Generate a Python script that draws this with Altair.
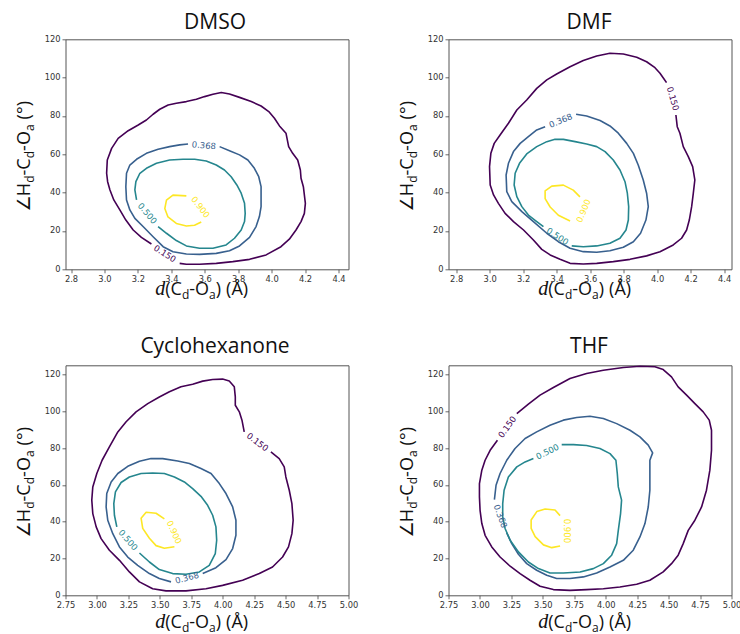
import altair as alt
import pandas as pd

# Contour levels drawn in every panel and their viridis colours
LEVEL_NAMES = ["0.150", "0.368", "0.500", "0.900"]
LEVEL_COLORS = ["#440154", "#38608e", "#25868e", "#fde725"]

# ---------------- DMSO ----------------
dmso_150_d = [3.450, 3.490, 3.569, 3.669, 3.768, 3.868, 3.967, 4.056, 4.106, 4.146, 4.176, 4.196, 4.202,
              4.190, 4.176, 4.172, 4.156, 4.126, 4.102, 4.086, 4.047, 4.017, 3.983, 3.937, 3.878, 3.808,
              3.748, 3.699, 3.649, 3.599, 3.550, 3.490, 3.430, 3.381, 3.331, 3.291, 3.251, 3.202, 3.142,
              3.082, 3.043, 3.017, 3.013, 3.019, 3.033, 3.056, 3.092, 3.128, 3.172, 3.221, 3.281]
dmso_150_a = [3.1, 2.6, 2.6, 3.1, 4.0, 5.2, 7.5, 11.8, 15.7, 20.5, 24.9, 29.2, 34.4, 43.1, 47.5, 51.8,
              57.0, 60.5, 64.0, 71.0, 74.8, 78.8, 82.3, 85.2, 87.5, 89.7, 91.5, 92.2, 91.3, 90.1, 88.7,
              87.5, 86.6, 85.7, 83.5, 80.9, 77.9, 75.3, 72.3, 68.3, 63.1, 57.0, 50.1, 45.7, 41.4, 36.2,
              31.0, 25.7, 20.5, 16.7, 13.2]
dmso_368_d = [3.689, 3.748, 3.808, 3.858, 3.897, 3.923, 3.937, 3.937, 3.927, 3.907, 3.868, 3.808, 3.748,
              3.669, 3.569, 3.490, 3.410, 3.351, 3.291, 3.231, 3.182, 3.152, 3.132, 3.128, 3.132, 3.152,
              3.192, 3.251, 3.321, 3.390, 3.450, 3.500]
dmso_368_a = [64.0, 61.9, 59.7, 57.0, 52.7, 48.3, 43.1, 32.7, 27.5, 22.3, 16.7, 12.2, 9.7, 8.3, 7.8, 8.0,
              9.2, 11.8, 17.0, 22.3, 26.6, 31.0, 36.2, 43.1, 50.1, 54.4, 57.4, 60.5, 62.6, 64.0, 64.9, 65.4]
dmso_500_d = [3.321, 3.371, 3.430, 3.490, 3.569, 3.649, 3.728, 3.778, 3.818, 3.838, 3.842, 3.838, 3.818,
              3.792, 3.758, 3.718, 3.669, 3.609, 3.540, 3.470, 3.390, 3.311, 3.251, 3.212, 3.188, 3.182,
              3.192]
dmso_500_a = [22.3, 18.8, 15.0, 12.2, 11.0, 11.0, 12.7, 16.2, 20.5, 24.9, 29.2, 34.4, 39.7, 44.0, 48.3,
              51.8, 54.4, 56.5, 57.4, 57.4, 57.0, 55.3, 52.7, 50.1, 45.7, 41.4, 36.2]
dmso_900_d = [3.490, 3.410, 3.371, 3.361, 3.380, 3.430, 3.490, 3.539, 3.579]
dmso_900_a = [38.3, 38.7, 36.1, 31.7, 27.3, 23.9, 22.6, 23.0, 24.7]
dmso_lab_d = [3.362, 3.595, 3.257, 3.575]
dmso_lab_a = [8.2, 64.7, 29.2, 32.5]
dmso_lab_ang = [33, 5, 50, 52]

# ---------------- DMF ----------------
dmf_150_d = [4.112, 4.120, 4.136, 4.156, 4.186, 4.212, 4.225, 4.216, 4.206, 4.192, 4.176, 4.146, 4.096,
             4.017, 3.937, 3.838, 3.738, 3.639, 3.559, 3.480, 3.420, 3.361, 3.311, 3.261, 3.202, 3.142,
             3.092, 3.052, 3.023, 3.003, 2.999, 3.007, 3.027, 3.062, 3.112, 3.162, 3.221, 3.281, 3.341,
             3.400, 3.480, 3.559, 3.639, 3.718, 3.798, 3.878, 3.937, 3.987, 4.017, 4.041, 4.056]
dmf_150_a = [80.5, 74.4, 71.0, 64.0, 58.8, 53.6, 46.6, 39.7, 32.7, 25.7, 20.5, 16.2, 12.7, 9.2, 7.0, 5.2,
             4.0, 3.1, 2.8, 3.1, 5.2, 7.5, 10.4, 15.3, 20.5, 24.9, 29.2, 34.4, 38.8, 44.0, 53.6, 60.5,
             65.7, 70.1, 76.2, 83.1, 88.3, 94.4, 98.8, 101.9, 105.7, 108.9, 111.3, 112.7, 112.3, 110.6,
             108.3, 105.2, 102.3, 99.3, 97.4]
dmf_368_d = [3.516, 3.579, 3.659, 3.718, 3.768, 3.818, 3.858, 3.887, 3.917, 3.937, 3.947, 3.933, 3.901,
             3.858, 3.798, 3.718, 3.639, 3.559, 3.480, 3.410, 3.341, 3.261, 3.192, 3.132, 3.102, 3.098,
             3.112, 3.142, 3.182, 3.231, 3.281, 3.331]
dmf_368_a = [80.9, 80.0, 77.6, 74.8, 71.0, 65.7, 60.5, 54.4, 46.6, 39.7, 32.7, 25.7, 18.8, 14.4, 11.5, 9.7,
             8.9, 9.2, 11.0, 14.4, 18.8, 24.9, 30.1, 35.3, 40.5, 49.2, 55.3, 61.4, 65.7, 69.2, 72.7, 74.4]
dmf_500_d = [3.490, 3.559, 3.639, 3.718, 3.778, 3.814, 3.828, 3.830, 3.822, 3.808, 3.778, 3.738, 3.689,
             3.639, 3.579, 3.510, 3.440, 3.390, 3.341, 3.281, 3.221, 3.178, 3.152, 3.146, 3.162, 3.192,
             3.231, 3.281, 3.321]
dmf_500_a = [12.2, 11.8, 12.2, 13.6, 16.2, 20.5, 25.7, 32.7, 39.7, 45.7, 51.8, 57.0, 61.4, 64.0, 65.4,
             66.6, 67.8, 67.8, 66.6, 64.0, 60.2, 55.3, 50.1, 44.0, 37.9, 32.7, 28.3, 24.9, 22.3]
dmf_900_d = [3.539, 3.499, 3.440, 3.371, 3.331, 3.331, 3.361, 3.410, 3.480]
dmf_900_a = [37.8, 41.3, 43.9, 43.4, 40.9, 36.9, 32.5, 28.2, 25.2]
dmf_lab_d = [4.095, 3.424, 3.405, 3.560]
dmf_lab_a = [89.0, 77.6, 17.2, 30.5]
dmf_lab_ang = [74, 338, 34, 293]

# ---------------- Cyclohexanone ----------------
cyc_150_d = [4.383, 4.449, 4.489, 4.502, 4.529, 4.550, 4.560, 4.550, 4.523, 4.476, 4.396, 4.291, 4.158,
             3.999, 3.867, 3.708, 3.549, 3.443, 3.338, 3.258, 3.179, 3.099, 3.033, 2.994, 2.967, 2.959,
             2.967, 2.999, 3.041, 3.099, 3.166, 3.232, 3.311, 3.404, 3.496, 3.576, 3.668, 3.761, 3.841,
             3.920, 3.999, 4.052, 4.092, 4.100, 4.100, 4.132, 4.153, 4.171]
cyc_150_a = [77.9, 74.3, 69.8, 64.3, 57.1, 49.8, 40.8, 33.5, 26.3, 20.8, 15.4, 11.8, 8.2, 5.4, 3.6, 2.4,
             2.4, 3.6, 7.3, 12.7, 19.0, 24.5, 30.8, 37.2, 44.4, 51.7, 58.9, 66.2, 73.4, 80.7, 88.8, 94.3,
             99.7, 104.2, 107.8, 110.6, 113.3, 114.7, 116.4, 117.3, 117.5, 116.5, 113.3, 107.8, 103.3,
             99.7, 95.2, 88.8]
cyc_368_d = [3.841, 3.946, 4.026, 4.079, 4.105, 4.105, 4.079, 4.026, 3.973, 3.907, 3.827, 3.735, 3.642,
             3.523, 3.430, 3.338, 3.245, 3.166, 3.113, 3.078, 3.073, 3.086, 3.126, 3.179, 3.245, 3.324,
             3.417, 3.496, 3.589]
cyc_368_a = [11.8, 15.0, 19.4, 25.4, 32.6, 40.8, 48.0, 55.3, 60.7, 66.2, 68.9, 71.6, 73.0, 74.3, 74.3,
             72.9, 70.1, 66.2, 61.6, 55.3, 48.0, 40.8, 33.5, 26.3, 20.8, 16.3, 11.8, 9.1, 7.3]
cyc_500_d = [3.338, 3.417, 3.496, 3.602, 3.708, 3.814, 3.893, 3.941, 3.952, 3.946, 3.920, 3.880, 3.827,
             3.761, 3.695, 3.616, 3.536, 3.443, 3.351, 3.258, 3.192, 3.147, 3.134, 3.139, 3.158]
cyc_500_a = [23.0, 18.1, 14.0, 11.8, 11.4, 12.7, 16.3, 22.7, 29.9, 37.2, 43.5, 48.9, 53.8, 58.0, 61.6,
             64.3, 66.2, 66.5, 66.2, 64.3, 61.3, 56.2, 49.8, 43.5, 37.2]
cyc_900_d = [3.536, 3.470, 3.391, 3.351, 3.364, 3.417, 3.470, 3.536, 3.616]
cyc_900_a = [41.5, 44.6, 45.1, 41.9, 36.4, 31.0, 27.0, 25.6, 26.4]
cyc_lab_d = [4.277, 3.715, 3.248, 3.615]
cyc_lab_a = [83.3, 9.5, 30.1, 34.3]
cyc_lab_ang = [37, 345, 49, 66]

# ---------------- THF ----------------
thf_150_d = [3.293, 3.385, 3.478, 3.584, 3.716, 3.848, 3.981, 4.140, 4.272, 4.391, 4.457, 4.523, 4.576,
             4.643, 4.709, 4.775, 4.823, 4.841, 4.841, 4.828, 4.801, 4.762, 4.709, 4.656, 4.616, 4.576,
             4.523, 4.457, 4.351, 4.246, 4.113, 3.981, 3.848, 3.716, 3.584, 3.478, 3.398, 3.319, 3.240,
             3.160, 3.094, 3.041, 3.015, 3.001, 2.996, 2.996, 3.015, 3.041, 3.081, 3.139]
thf_150_a = [98.8, 103.9, 108.8, 112.9, 117.8, 120.5, 122.3, 123.8, 124.5, 124.2, 122.7, 118.7, 113.3,
             108.8, 104.2, 99.7, 95.2, 89.7, 78.8, 68.0, 57.1, 48.0, 40.8, 35.3, 28.1, 21.8, 17.2, 12.7,
             8.2, 6.0, 4.5, 3.6, 3.1, 2.7, 3.1, 4.9, 8.2, 11.8, 15.8, 20.8, 26.3, 32.6, 39.0, 46.2, 53.5,
             60.7, 68.0, 73.4, 78.8, 84.3]
thf_368_d = [3.115, 3.128, 3.160, 3.213, 3.279, 3.359, 3.451, 3.557, 3.663, 3.769, 3.875, 3.981, 4.087,
             4.193, 4.272, 4.338, 4.373, 4.351, 4.351, 4.351, 4.338, 4.312, 4.272, 4.219, 4.140, 4.034,
             3.928, 3.822, 3.716, 3.610, 3.531, 3.451, 3.372, 3.306, 3.253, 3.213]
thf_368_a = [52.0, 59.8, 66.2, 73.4, 79.8, 85.2, 88.8, 92.4, 95.2, 96.6, 97.3, 96.1, 93.3, 89.7, 86.1,
             81.6, 77.4, 73.4, 66.2, 57.1, 48.0, 39.0, 31.7, 24.5, 19.0, 15.4, 12.1, 10.0, 9.1, 9.1, 10.9,
             13.6, 17.2, 22.3, 28.1, 33.9]
thf_500_d = [3.650, 3.743, 3.848, 3.954, 4.034, 4.081, 4.092, 4.100, 4.126, 4.118, 4.100, 4.087, 4.047,
             3.981, 3.901, 3.796, 3.663, 3.557, 3.465, 3.385, 3.306, 3.240, 3.200, 3.181, 3.181, 3.192,
             3.226, 3.293, 3.359, 3.425]
thf_500_a = [81.9, 81.9, 81.4, 79.8, 77.0, 73.4, 66.2, 58.9, 51.7, 44.4, 35.3, 28.1, 21.8, 17.2, 14.5,
             12.7, 12.1, 12.1, 14.5, 18.1, 23.6, 29.9, 36.3, 42.6, 49.8, 57.1, 64.3, 69.8, 72.5, 74.3]
thf_900_d = [3.637, 3.597, 3.518, 3.452, 3.407, 3.407, 3.439, 3.505, 3.571, 3.637]
thf_900_a = [43.3, 46.4, 46.9, 45.5, 40.9, 36.4, 31.9, 27.4, 25.9, 26.8]
thf_lab_d = [3.216, 3.164, 3.537, 3.690]
thf_lab_a = [91.5, 43.0, 78.1, 35.0]
thf_lab_ang = [306, 70, 334, 90]

# Axis ticks
X_TICKS_NARROW = [2.8, 3.0, 3.2, 3.4, 3.6, 3.8, 4.0, 4.2, 4.4]
X_TICKS_WIDE = [2.75, 3.00, 3.25, 3.50, 3.75, 4.00, 4.25, 4.50, 4.75, 5.00]
Y_TICKS = [0, 20, 40, 60, 80, 100, 120]

W, H = 283, 230
SANS = "Open Sans"
INK = "#111111"

PANELS = [
    dict(title="DMSO", xdom=[2.767, 4.46], ydom=[0, 120], xticks=X_TICKS_NARROW, xfmt=".1f",
         contours=[(dmso_150_d, dmso_150_a), (dmso_368_d, dmso_368_a),
                   (dmso_500_d, dmso_500_a), (dmso_900_d, dmso_900_a)],
         lab=(dmso_lab_d, dmso_lab_a, dmso_lab_ang), row=0, col=0),
    dict(title="DMF", xdom=[2.754, 4.444], ydom=[0, 120], xticks=X_TICKS_NARROW, xfmt=".1f",
         contours=[(dmf_150_d, dmf_150_a), (dmf_368_d, dmf_368_a),
                   (dmf_500_d, dmf_500_a), (dmf_900_d, dmf_900_a)],
         lab=(dmf_lab_d, dmf_lab_a, dmf_lab_ang), row=0, col=1),
    dict(title="Cyclohexanone", xdom=[2.75, 5.0], ydom=[0, 125], xticks=X_TICKS_WIDE, xfmt=".2f",
         contours=[(cyc_150_d, cyc_150_a), (cyc_368_d, cyc_368_a),
                   (cyc_500_d, cyc_500_a), (cyc_900_d, cyc_900_a)],
         lab=(cyc_lab_d, cyc_lab_a, cyc_lab_ang), row=1, col=0),
    dict(title="THF", xdom=[2.75, 5.0], ydom=[0, 125], xticks=X_TICKS_WIDE, xfmt=".2f",
         contours=[(thf_150_d, thf_150_a), (thf_368_d, thf_368_a),
                   (thf_500_d, thf_500_a), (thf_900_d, thf_900_a)],
         lab=(thf_lab_d, thf_lab_a, thf_lab_ang), row=1, col=1),
]

# Approximate advance widths (em) used to lay out the sub-scripted axis titles
EM = {"∠": 0.838, "H": 0.752, "C": 0.633, "O": 0.780, "d": 0.613, "a": 0.556, "-": 0.322,
      "(": 0.296, ")": 0.296, " ": 0.26, "°": 0.418, "Å": 0.668}


def piece_width(txt, size, font):
    if font != SANS and txt == "d":
        return 0.5 * size
    return sum(EM[c] for c in txt) * size


def text_piece(txt, x, y, size, font, style="normal", angle=0, align="left"):
    return alt.Chart(alt.Data(values=[{}])).mark_text(
        text=txt, font=font, fontSize=size, fontStyle=style, angle=angle,
        align=align, baseline="alphabetic", color=INK,
    ).encode(x=alt.value(x), y=alt.value(y))


# (text, font size, font, style, baseline shift, extra gap before the piece)
Y_TITLE = [("∠", 18, "DejaVu Sans", "normal", 0, 0), ("H", 18, SANS, "normal", 0, 0),
           ("d", 12, SANS, "normal", 4, 0), ("-C", 18, SANS, "normal", 0, 0),
           ("d", 12, SANS, "normal", 4, 0), ("-O", 18, SANS, "normal", 0, 0),
           ("a", 12, SANS, "normal", 4, 0), ("(°)", 18, SANS, "normal", 0, 5)]
X_TITLE = [("d", 20, "Liberation Serif", "italic", 0, 0), ("(C", 18, SANS, "normal", 0, 0),
           ("d", 12, SANS, "normal", 4, 0), ("-O", 18, SANS, "normal", 0, 0),
           ("a", 12, SANS, "normal", 4, 0), (")", 18, SANS, "normal", 0, 0),
           ("(Å)", 18, SANS, "normal", 0, 5)]


def run_length(pieces):
    return sum(piece_width(t, s, f) + g for t, s, f, _, _, g in pieces)


def panel_texts(p):
    marks = []
    row, col = p["row"], p["col"]
    # panel heading
    marks.append(text_piece(p["title"], W / 2 + (8 if col == 0 else -1), -10 if row == 0 else -12,
                            21, SANS, align="center"))
    # vertical title, reading bottom to top
    pos = H / 2 + 2 + run_length(Y_TITLE) / 2
    for t, s, f, st, sh, g in Y_TITLE:
        pos -= g
        marks.append(text_piece(t, -35.5 + sh, pos, s, f, st, 270))
        pos -= piece_width(t, s, f)
    # horizontal title under the axis
    pos = W / 2 - 5 - run_length(X_TITLE) / 2
    base = H + (26 if row == 0 else 32.5)
    for t, s, f, st, sh, g in X_TITLE:
        pos += g
        marks.append(text_piece(t, pos, base + sh, s, f, st, 0))
        pos += piece_width(t, s, f)
    return marks


def panel(p):
    rows = []
    for name, (ds, as_) in zip(LEVEL_NAMES, p["contours"]):
        for i, (d, a) in enumerate(zip(ds, as_)):
            rows.append({"lvl": name, "i": i, "d": d, "a": a})
    lines_df = pd.DataFrame(rows)
    lab_d, lab_a, lab_ang = p["lab"]
    labels_df = pd.DataFrame({"lvl": LEVEL_NAMES, "d": lab_d, "a": lab_a, "ang": lab_ang})

    x = alt.X("d:Q", scale=alt.Scale(domain=p["xdom"], nice=False, zero=False),
              axis=alt.Axis(values=p["xticks"], format=p["xfmt"], title=None))
    y = alt.Y("a:Q", scale=alt.Scale(domain=p["ydom"], nice=False, zero=False),
              axis=alt.Axis(values=Y_TICKS, format="d", title=None))
    color = alt.Color("lvl:N", scale=alt.Scale(domain=LEVEL_NAMES, range=LEVEL_COLORS), legend=None)

    lines = alt.Chart(lines_df).mark_line(strokeWidth=1.6, strokeJoin="round").encode(
        x=x, y=y, color=color, detail="lvl:N", order="i:Q")
    labels = alt.Chart(labels_df).mark_text(
        font="DejaVu Sans", fontSize=8.5, align="center", baseline="middle").encode(
        x=x, y=y, text="lvl:N", color=color, angle=alt.Angle("ang:Q", scale=None))

    return alt.layer(lines, labels, *panel_texts(p)).properties(width=W, height=H)


chart = alt.concat(
    *[panel(p) for p in PANELS], columns=2,
    spacing={"row": 96, "column": 100}, bounds="flush",
).properties(
    autosize=alt.AutoSizeParams(type="none"),
    padding={"left": 65.5, "top": 39.3, "right": 740 - 65.5, "bottom": 634 - 39.3},
).configure_view(
    stroke="#555555", strokeWidth=1,
).configure_axis(
    labelFont="DejaVu Sans", labelFontSize=8.3, labelColor="#333333",
    tickColor="#444444", tickSize=3.5, tickWidth=0.8, domain=False, grid=False,
    labelPadding=2, labelFlush=False, labelOverlap=False,
)

chart.save("out.html", embed_options={"renderer": "svg", "actions": False})
